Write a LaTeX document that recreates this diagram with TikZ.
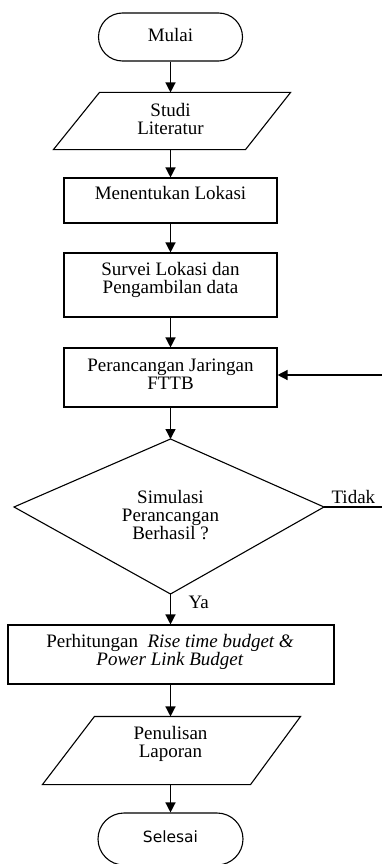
\documentclass[tikz,border=0pt]{standalone}
\usepackage{fontspec}
\setmainfont{Liberation Serif}
\newfontfamily\selfont{DejaVu Sans}
\usetikzlibrary{arrows.meta,calc}
\begin{document}
\begin{tikzpicture}[x=1pt,y=-1pt,
  line width=1.1pt,
  boxshape/.style={draw, rectangle, inner sep=0pt},
  holder/.style={rectangle, inner sep=0pt},
  termshape/.style={draw, rectangle, inner sep=0pt},
  txt/.style={align=center, inner sep=0pt, font=\fontsize{19}{18}\selectfont},
  lbl/.style={inner sep=0pt, font=\fontsize{19}{18}\selectfont},
  arr/.style={-{Triangle[length=10pt,width=10pt]}, line width=1.3pt}
]
\useasboundingbox (0,0) rectangle (382,864);

% Mulai
\node[termshape, minimum width=144pt, minimum height=48pt, rounded corners=24pt] (mulai) at (170.5,37) {};
\node[txt] (tmulai) at (170.5,35) {Mulai};

% Studi Literatur
\node[holder, minimum width=236pt, minimum height=56pt] (studi) at (172,121) {};
\draw ($(studi.north west)+(46,0)$) -- (studi.north east) -- ($(studi.south east)+(-45,0)$) -- (studi.south west) -- cycle;
\node[txt] (tstudi) at (170.5,119) {Studi\\Literatur};

% Menentukan Lokasi
\node[boxshape, minimum width=213pt, minimum height=45pt] (lok) at (170.5,200.5) {};
\node[txt] (tlok) at (170.5,193) {Menentukan Lokasi};

% Survei
\node[boxshape, minimum width=213pt, minimum height=64pt] (survei) at (170.5,285) {};
\node[txt] (tsurvei) at (170.5,280) {Survei Lokasi dan\\Pengambilan data};

% Perancangan
\node[boxshape, minimum width=213pt, minimum height=59pt] (peran) at (170.5,377.5) {};
\node[txt] (tperan) at (170.5,374.5) {Perancangan Jaringan\\FTTB};

% Diamond
\coordinate (dT) at (170.5,439);
\coordinate (dR) at (324,507);
\coordinate (dB) at (170.5,594);
\coordinate (dL) at (14,507);
\draw (dT) -- (dR) -- (dB) -- (dL) -- cycle;
\node[txt] (tdia) at (170.5,515) {Simulasi\\Perancangan\\Berhasil ?};

% Perhitungan
\node[boxshape, minimum width=326pt, minimum height=59pt] (hitung) at (171,654.5) {};
\node[txt] (thitung) at (170,652) {Perhitungan\ \ \textit{Rise time budget \&}\\\textit{Power Link Budget}};

% Penulisan Laporan
\node[holder, minimum width=257pt, minimum height=67pt] (lapor) at (171.5,750.5) {};
\draw ($(lapor.north west)+(52,0)$) -- (lapor.north east) -- ($(lapor.south east)+(-50,0)$) -- (lapor.south west) -- cycle;
\node[txt] (tlapor) at (170.5,743.5) {Penulisan\\Laporan};

% Selesai
\node[termshape, minimum width=145pt, minimum height=52pt, rounded corners=26pt] (selesai) at (170.5,839) {};
\node[inner sep=0pt, font=\selfont\fontsize{15.5}{16}\selectfont] (tselesai) at (170.5,837) {Selesai};

% Connectors
\draw[arr] (mulai.south) -- (mulai.south |- studi.north);
\draw[arr] (mulai.south |- studi.south) -- (mulai.south |- lok.north);
\draw[arr] (lok.south) -- (survei.north);
\draw[arr] (survei.south) -- (peran.north);
\draw[arr] (peran.south) -- (dT);
\draw[arr] (dB) -- (dB |- hitung.north);
\draw[arr] (dB |- hitung.south) -- (dB |- lapor.north);
\draw[arr] (dB |- lapor.south) -- (dB |- selesai.north);

% Feedback (Tidak)
\coordinate (fb) at (388,507);
\draw[arr] (dR) -- (fb) |- ($(peran.east)+(0,-2.5)$);

% Labels
\node[lbl, anchor=base west] (ltidak) at (331,503.5) {Tidak};
\node[lbl, anchor=base west] (lya) at (188,608) {Ya};
\end{tikzpicture}
\end{document}
